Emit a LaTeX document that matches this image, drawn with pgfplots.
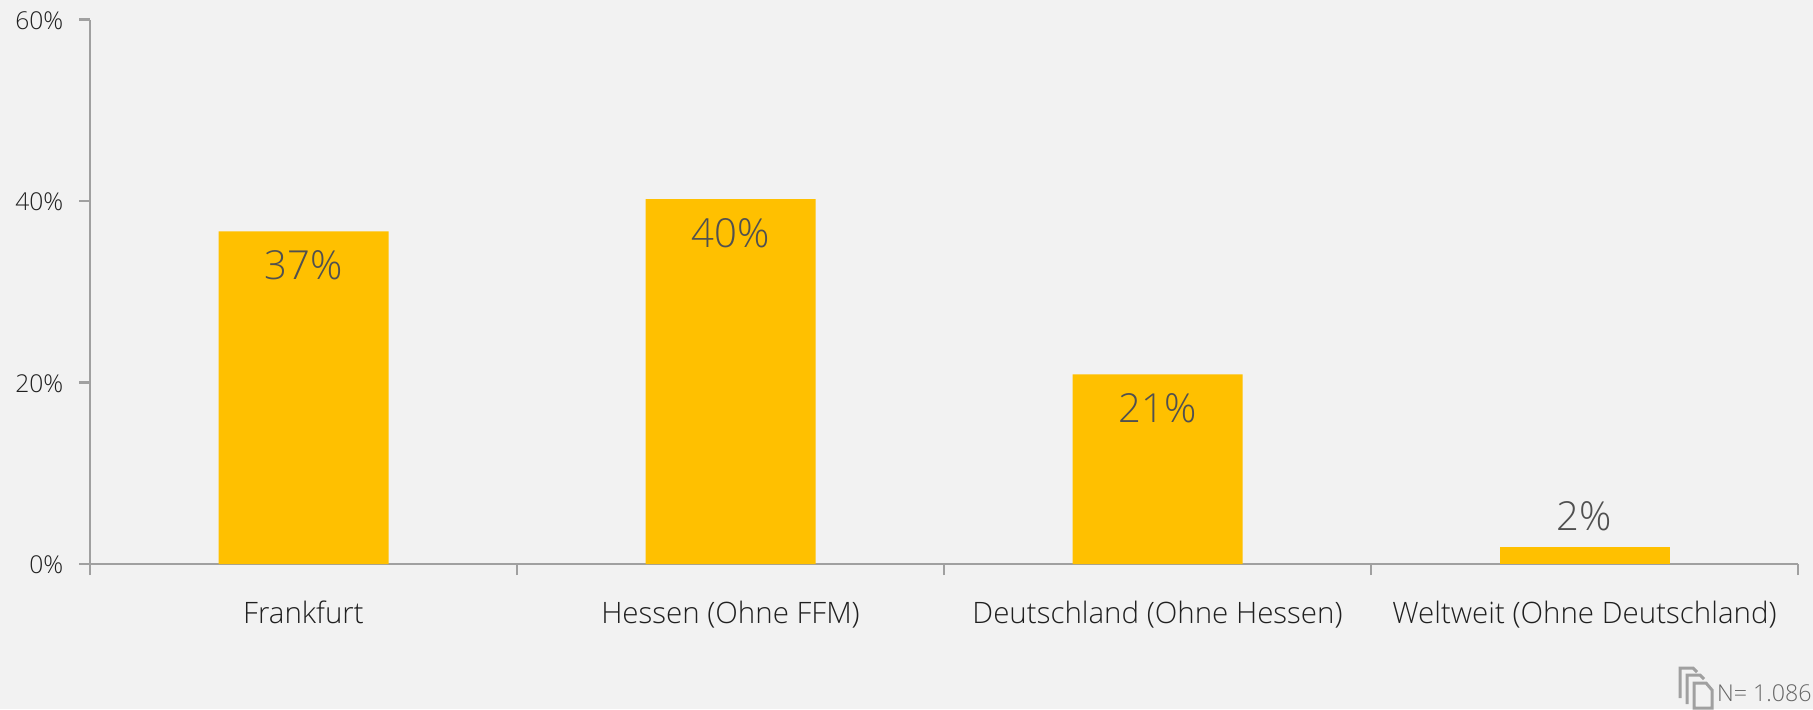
\documentclass[border=0pt]{standalone}
\usepackage{pgfplots}
\pgfplotsset{compat=1.18}
\usepackage{fontspec}
\setmainfont{Open Sans Light}
\definecolor{bgc}{HTML}{F2F2F2}
\definecolor{barc}{HTML}{FFC000}
\definecolor{axc}{HTML}{A0A0A0}
\definecolor{txc}{HTML}{202020}
\definecolor{valc}{HTML}{505050}
\begin{document}
\begin{tikzpicture}[x=1pt,y=1pt]
\useasboundingbox (0,0) rectangle (906.5,354.5);
\fill[bgc] (0,0) rectangle (906.5,354.5);
\begin{axis}[
  at={(45pt,72.5pt)}, anchor=origin,
  scale only axis, width=854pt, height=272.25pt,
  xmin=0, xmax=4, ymin=0, ymax=60,
  axis x line=bottom, axis y line=left,
  axis line style={axc, line width=1.2pt, -},
  xtick={0,1,2,3,4}, xticklabels={},
  extra x ticks={0.5,1.5,2.5,3.5},
  extra x tick labels={Frankfurt,Hessen (Ohne FFM),Deutschland (Ohne Hessen),Weltweit (Ohne Deutschland)},
  extra x tick style={major tick length=0pt, tick label style={yshift=-15pt, font=\fontsize{14.75}{17}\selectfont}},
  ytick={0,20,40,60},
  yticklabel={\pgfmathprintnumber[assume math mode=true]{\tick}\%},
  yticklabel style={xshift=-4.3pt, yshift=-0.4pt, font=\fontsize{12.3}{15}\selectfont},
  tick align=outside,
  major tick length=5.5pt,
  tick style={axc, line width=1.2pt},
  tick label style={text=txc},
  clip=false,
  point meta=explicit,
  nodes near coords={\pgfmathprintnumber[assume math mode=true]{\pgfplotspointmeta}\%},
  nodes near coords style={font=\fontsize{20}{24}\selectfont, text=valc},
]
\addplot[ybar, bar width=85pt, fill=barc, draw=none,
  every node near coord/.append style={anchor=north, yshift=-6pt}]
  coordinates {(0.5,36.66)[37] (1.5,40.2)[40] (2.5,20.9)[21]};
\addplot[ybar, bar width=85pt, fill=barc, draw=none,
  every node near coord/.append style={anchor=south, yshift=4.5pt}]
  coordinates {(3.5,1.87)[2]};
\end{axis}
\begin{scope}[x=0.5pt,y=-0.5pt,shift={(0pt,354.5pt)}]
  \draw[axc, line width=1.5pt] (1680,698) -- (1680,668) -- (1693,668) -- (1697,672);
  \draw[axc, line width=1.5pt] (1687,704) -- (1687,675) -- (1700,675) -- (1704,679);
  \draw[axc, line width=1.5pt, line join=miter] (1694,708) -- (1694,683) -- (1706,683) -- (1712,690) -- (1712,708) -- cycle;
  \node[anchor=base east, inner sep=0pt, text=gray!80!black, font=\fontsize{11.6}{14}\selectfont] at (1812,701) {N= 1.086};
\end{scope}
\end{tikzpicture}
\end{document}
